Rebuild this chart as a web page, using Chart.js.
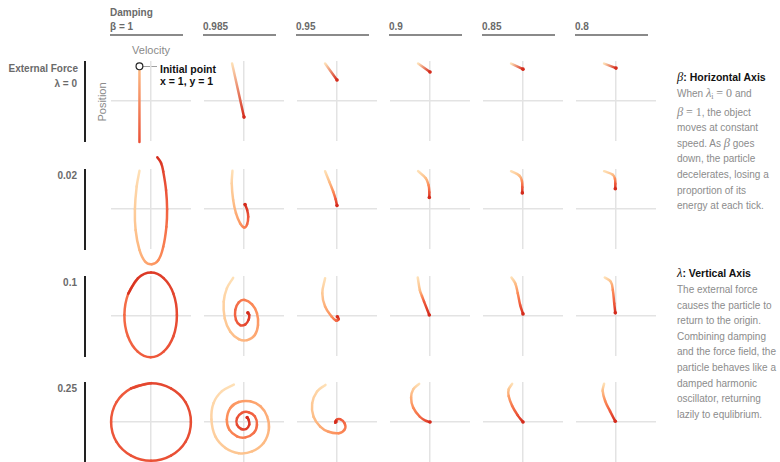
<!DOCTYPE html>
<html>
<head>
<meta charset="utf-8">
<script src="https://cdn.jsdelivr.net/npm/chart.js@4.4.1/dist/chart.umd.min.js"></script>
<style>
  html, body { margin: 0; padding: 0; background: #fff; }
  #stage { position: relative; width: 780px; height: 462px; overflow: hidden;
           font-family: "Liberation Sans", Arial, sans-serif; }
  .abs { position: absolute; white-space: nowrap; }
  .hdr { font-weight: bold; font-size: 10px; line-height: 12px; color: #6a6a6a; }
  .rule { position: absolute; height: 2px; background: #8a8a8a; }
  .vrule { position: absolute; width: 1.5px; background: #222; }
  .axisname { font-size: 11px; line-height: 12px; color: #8a8a8a; }
  .callout { font-weight: bold; font-size: 10.5px; line-height: 12px; color: #111; }
  .note { position: absolute; left: 677px; font-size: 10px; line-height: 15.6px; color: #8c8c8c; white-space: nowrap; }
  .ntitle { position: absolute; left: 677px; font-size: 10.5px; line-height: 14px; color: #111; font-weight: bold; white-space: nowrap; }
  .m { font-family: "Liberation Serif", "DejaVu Serif", serif; font-style: italic; font-size: 12.5px; font-weight: normal; }
  .mr { font-family: "Liberation Serif", "DejaVu Serif", serif; font-size: 12px; }
  .m sub { font-size: 8px; font-style: normal; vertical-align: -2px; }
  canvas.panel { position: absolute; }
</style>
</head>
<body>
<div id="stage"></div>
<script>
// ---- values ----------------------------------------------------------
const betas = [1, 0.985, 0.95, 0.9, 0.85, 0.8];
const lambdas = [0, 0.02, 0.1, 0.25];
const betaLabels = ['β = 1', '0.985', '0.95', '0.9', '0.85', '0.8'];
const lambdaLabels = ['λ = 0', '0.02', '0.1', '0.25'];
const initialPoint = [-0.33, 0.99];

// trajectories as [velocity, position] samples, one list per damping value
const lambda0Paths = [
  [[-0.33, 0.99], [-0.33, -1.17]],
  [[-0.34, 1.07], [0, -0.46]],
  [[-0.34, 1.07], [0, 0.6]],
  [[-0.34, 1.07], [0, 0.83]],
  [[-0.34, 1.07], [0, 0.91]],
  [[-0.34, 1.07], [0, 0.94]]
];
const lambda002Paths = [
  [[-0.33, 1.09], [-0.41, 0.64], [-0.46, -0.01], [-0.44, -0.6], [-0.33, -1.17], [-0.17, -1.5],
   [0.02, -1.58], [0.21, -1.46], [0.35, -1.08], [0.44, -0.51], [0.46, -0.01], [0.43, 0.54],
   [0.35, 1.07], [0.29, 1.31], [0.18, 1.48]],
  [[-0.33, 1.09], [-0.35, 0.73], [-0.31, 0.26], [-0.23, -0.12], [-0.11, -0.41], [0.01, -0.53],
   [0.09, -0.43], [0.12, -0.22], [0.09, -0.03], [0.03, 0.13]],
  [[-0.34, 1.08], [-0.22, 0.78], [-0.11, 0.5], [-0.04, 0.28], [0, 0.1]],
  [[-0.34, 1.08], [-0.12, 0.88], [-0.04, 0.68], [-0.02, 0.48], [-0.02, 0.33]],
  [[-0.34, 1.08], [-0.1, 0.95], [-0.03, 0.8], [-0.02, 0.62], [-0.02, 0.46]],
  [[-0.34, 1.08], [-0.09, 0.98], [-0.03, 0.86], [-0.02, 0.72], [-0.02, 0.58]]
];
const lambda01Paths = [
  [[-0.37, 1.08], [-0.65, 0.64], [-0.76, 0.03], [-0.66, -0.58], [-0.38, -1.02], [-0.01, -1.18],
   [0.36, -1.02], [0.64, -0.58], [0.74, 0.03], [0.64, 0.64], [0.36, 1.08], [0, 1.24], [-0.37, 1.08],
   [-0.65, 0.64]],
  [[-0.31, 1.09], [-0.49, 0.79], [-0.58, 0.41], [-0.55, -0.07], [-0.39, -0.45], [-0.15, -0.66],
   [0.09, -0.69], [0.31, -0.54], [0.4, -0.26], [0.37, 0.08], [0.23, 0.33], [0.02, 0.46],
   [-0.15, 0.39], [-0.25, 0.17], [-0.23, -0.11], [-0.11, -0.26], [0.04, -0.24], [0.13, -0.11],
   [0.15, 0.03], [0.11, 0.09]],
  [[-0.34, 1.08], [-0.42, 0.65], [-0.34, 0.27], [-0.15, -0.02], [-0.03, -0.13], [0.05, -0.09], [0.01, -0.02]],
  [[-0.35, 1.1], [-0.29, 0.74], [-0.23, 0.57], [-0.17, 0.41], [-0.02, 0.03]],
  [[-0.33, 1.1], [-0.22, 0.93], [-0.15, 0.65], [-0.08, 0.31], [0, 0.06]],
  [[-0.32, 1.1], [-0.15, 0.98], [-0.09, 0.74], [-0.05, 0.36], [-0.02, 0.09]]
];
const lambda025Paths = [
  [[0, 1.11], [-0.57, 0.96], [-0.99, 0.56], [-1.14, 0], [-0.99, -0.56], [-0.57, -0.96], [0, -1.11],
   [0.57, -0.96], [0.99, -0.56], [1.14, 0], [0.99, 0.56], [0.57, 0.96], [0, 1.11], [-0.57, 0.96]],
  [[-0.29, 1.07], [-0.63, 0.88], [-0.87, 0.54], [-0.93, 0.07], [-0.82, -0.41], [-0.53, -0.74],
   [-0.15, -0.89], [0.23, -0.84], [0.56, -0.6], [0.71, -0.22], [0.66, 0.16], [0.47, 0.45],
   [0.18, 0.59], [-0.15, 0.57], [-0.39, 0.4], [-0.49, 0.07], [-0.42, -0.22], [-0.2, -0.41],
   [0.04, -0.44], [0.28, -0.31], [0.37, -0.08], [0.31, 0.16], [0.13, 0.28], [-0.06, 0.26],
   [-0.2, 0.11], [-0.2, -0.08], [-0.08, -0.2], [0.06, -0.2], [0.15, -0.08], [0.13, 0.07], [0.09, 0.13]],
  [[-0.33, 1.06], [-0.57, 0.87], [-0.71, 0.53], [-0.67, 0.15], [-0.48, -0.13], [-0.24, -0.28],
   [0.05, -0.32], [0.22, -0.21], [0.22, -0.04], [0.09, 0.08], [-0.02, 0.06], [-0.05, -0.02], [-0.03, 0.01]],
  [[-0.31, 1.09], [-0.48, 0.93], [-0.54, 0.69], [-0.48, 0.41], [-0.29, 0.15], [-0.11, 0.03], [0, 0]],
  [[-0.31, 1.09], [-0.41, 0.93], [-0.41, 0.74], [-0.31, 0.46], [-0.15, 0.19], [0, 0]],
  [[-0.34, 1.09], [-0.38, 0.89], [-0.31, 0.6], [-0.17, 0.31], [-0.02, 0.02]]
];
const pathsByLambda = [lambda0Paths, lambda002Paths, lambda01Paths, lambda025Paths];

// ---- layout ----------------------------------------------------------
const colCenters = [151, 244, 337, 430, 523, 616];
const rowCenters = [101, 209, 316, 422];
const halfRange = 8 / 7;          // each panel's axes run ±8/7 units
const panelW = 100, panelH = 120; // canvas size; plot area is 80×80 in the middle

const stage = document.getElementById('stage');
function addDiv(html, cls, css) {
  const d = document.createElement('div');
  d.className = cls;
  d.innerHTML = html;
  Object.assign(d.style, css);
  stage.appendChild(d);
  return d;
}

// column header: damping
addDiv('Damping', 'abs hdr', { left: '110px', top: '7px' });
betaLabels.forEach((lab, c) => {
  const x = colCenters[c] - 41;
  addDiv(lab, 'abs hdr', { left: x + 'px', top: '21px' });
  addDiv('', 'rule', { left: x + 'px', top: '34px', width: '73px' });
});

// row header: external force
lambdaLabels.forEach((lab, r) => {
  const cy = rowCenters[r];
  if (r === 0) {
    addDiv('External Force', 'abs hdr', { right: '702px', top: '63px', textAlign: 'right' });
    addDiv(lab, 'abs hdr', { right: '703px', top: '78px', textAlign: 'right' });
  } else {
    addDiv(lab, 'abs hdr', { right: '703px', top: (cy - 39) + 'px', textAlign: 'right' });
  }
  addDiv('', 'vrule', { left: '84px', top: (cy - 40) + 'px', height: '81px' });
});

// axis names on the first panel
addDiv('Velocity', 'abs axisname', { left: '151px', top: '44px', transform: 'translateX(-50%)' });
addDiv('Position', 'abs axisname', { left: '102px', top: '102px', transform: 'translate(-50%,-50%) rotate(-90deg)' });

// callout for the starting state
addDiv('', 'abs', { left: '143px', top: '66px', width: '14px', height: '1px', background: '#a0a0a0' });
addDiv('Initial point', 'abs callout', { left: '160px', top: '63px' });
addDiv('x = 1, y = 1', 'abs callout', { left: '160px', top: '75px' });

// side notes
addDiv('<span class="m">β</span>: Horizontal Axis', 'ntitle', { top: '70px' });
addDiv([
  'When <span class="m">λ<sub>i</sub></span> <span class="mr">= 0</span> and',
  '<span class="m">β</span> <span class="mr">= 1</span>, the object',
  'moves at constant',
  'speed. As <span class="m">β</span> goes',
  'down, the particle',
  'decelerates, losing a',
  'proportion of its',
  'energy at each tick.'
].join('<br>'), 'note', { top: '86px' });

addDiv('<span class="m">λ</span>: Vertical Axis', 'ntitle', { top: '266px' });
addDiv([
  'The external force',
  'causes the particle to',
  'return to the origin.',
  'Combining damping',
  'and the force field, the',
  'particle behaves like a',
  'damped harmonic',
  'oscillator, returning',
  'lazily to equlibrium.'
].join('<br>'), 'note', { top: '282px' });

// ---- colour ramp along each trajectory (pale start → deep red end) ----
const rampStops = [
  [0, [254, 224, 182]], [0.25, [253, 190, 135]], [0.5, [252, 141, 89]],
  [0.75, [239, 90, 60]], [1, [212, 44, 29]]
];
function rampColor(t) {
  t = Math.max(0, Math.min(1, t));
  for (let i = 1; i < rampStops.length; i++) {
    const [t0, c0] = rampStops[i - 1];
    const [t1, c1] = rampStops[i];
    if (t <= t1) {
      const f = (t - t0) / (t1 - t0);
      return 'rgb(' + c0.map((v, k) => Math.round(v + (c1[k] - v) * f)).join(',') + ')';
    }
  }
  return 'rgb(212,44,29)';
}
function shadeSpan(r, c) {
  if (betas[c] === 1 && lambdas[r] >= 0.25) return [0.74, 0.86];
  if (betas[c] === 1 && lambdas[r] >= 0.1) return [0.62, 0.97];
  if (betas[c] === 1 && lambdas[r] === 0) return [0.25, 0.8];
  return [0, 1];
}

function zeroLine(ctx) {
  return (ctx.tick && Math.abs(ctx.tick.value) < 1e-9) ? '#e3e3e3' : 'rgba(0,0,0,0)';
}

function trajectoryDataset(path, r, c) {
  const [from, to] = shadeSpan(r, c);
  const last = path.length - 1;
  const converges = betas[c] < 1;
  return {
    data: path.map(([v, p]) => ({ x: v, y: p })),
    showLine: true,
    tension: 0.4,
    capBezierPoints: false,
    borderWidth: 2.5,
    borderCapStyle: 'round',
    borderJoinStyle: 'round',
    borderColor: rampColor(from),
    clip: false,
    segment: {
      borderColor: s => {
        const a = from + (to - from) * s.p0DataIndex / last;
        const b = from + (to - from) * s.p1DataIndex / last;
        if (!s.p0 || !isFinite(s.p0.x) || !isFinite(s.p1.x)) return rampColor(a);
        const g = s.chart.ctx.createLinearGradient(s.p0.x, s.p0.y, s.p1.x, s.p1.y);
        g.addColorStop(0, rampColor(a));
        g.addColorStop(1, rampColor(b));
        return g;
      },
      borderDashOffset: s => s.p0DataIndex * 0.001
    },
    pointRadius: ctx => (converges && ctx.dataIndex === last) ? 1.8 : 0,
    pointBackgroundColor: '#d42c1d',
    pointBorderWidth: 0
  };
}

pathsByLambda.forEach((row, r) => {
  row.forEach((path, c) => {
    const cv = document.createElement('canvas');
    cv.className = 'panel';
    cv.width = panelW; cv.height = panelH;
    cv.style.left = (colCenters[c] - panelW / 2) + 'px';
    cv.style.top = (rowCenters[r] - panelH / 2) + 'px';
    stage.appendChild(cv);

    const datasets = [];
    if (r === 0 && c === 0) {
      datasets.push({
        data: [{ x: initialPoint[0], y: initialPoint[1] }],
        showLine: false,
        clip: false,
        pointRadius: 3.4,
        pointBorderWidth: 1.2,
        pointBorderColor: '#222',
        pointBackgroundColor: '#fff'
      });
    }
    datasets.push(trajectoryDataset(path, r, c));

    const axis = () => ({
      type: 'linear',
      min: -halfRange, max: halfRange,
      ticks: { display: false, stepSize: 0.5 },
      grid: { drawTicks: false, lineWidth: 1.5, color: zeroLine },
      border: { display: false }
    });
    new Chart(cv, {
      type: 'line',
      data: { datasets },
      options: {
        responsive: false,
        animation: false,
        devicePixelRatio: 1,
        events: [],
        layout: { padding: { left: 10, right: 10, top: 20, bottom: 20 } },
        plugins: { legend: { display: false }, tooltip: { enabled: false } },
        scales: { x: axis(), y: axis() }
      }
    });
  });
});
</script>
</body>
</html>
